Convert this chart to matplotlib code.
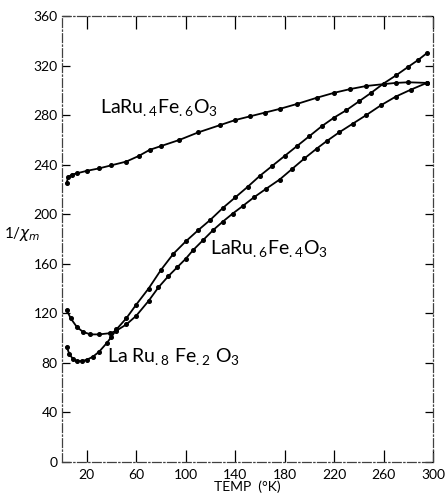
import matplotlib
matplotlib.use("Agg")
import matplotlib.pyplot as plt

plt.rcParams['font.family'] = ['Lato', 'DejaVu Sans']
plt.rcParams['mathtext.fontset'] = 'custom'
plt.rcParams['mathtext.rm'] = 'Lato'

# LaRu.4Fe.6O3
t_a = [3.8, 5, 8, 12, 20, 30, 40, 52, 62, 71, 80, 95, 110, 128, 140, 152, 164, 176,
       190, 206, 220, 233, 246, 260, 270, 280, 295]
v_a = [225.5, 230, 232, 233, 235, 237, 239.5, 242.5, 247, 252, 255, 260, 266, 272,
       276, 279, 282, 285, 289, 294, 298, 301, 303.5, 305, 306, 306.5, 306]

# LaRu.8Fe.2O3
t_b = [3.8, 6, 9, 12, 16, 20, 25, 30, 36, 40, 44, 52, 60, 70, 80, 90, 100, 110, 120,
       130, 140, 150, 160, 170, 180, 190, 200, 210, 220, 230, 240, 250, 260, 270, 280,
       288, 295]
v_b = [93, 87, 83, 81.5, 81.5, 82.5, 85, 89, 95.8, 101, 107, 116, 127, 140, 155, 168,
       178, 187, 195.5, 205, 213.5, 222, 231, 239, 247, 255, 263, 271, 278, 284, 291,
       298, 305.5, 312, 319, 324.5, 330]

# LaRu.6Fe.4O3
t_c = [3.8, 7, 12, 17, 23, 30, 39, 44, 52, 60, 70, 78, 86, 93, 100, 106, 114, 122,
       130, 138, 146, 155, 165, 176, 186, 196, 206, 214, 224, 235, 246, 258, 270, 282,
       295]
v_c = [122.7, 116, 109, 105, 103, 103, 104, 106, 111, 118, 130, 141, 150, 157, 164,
       171, 179, 187, 194, 200.5, 206.5, 213.5, 220.5, 228, 236.5, 245, 253, 259, 266,
       273, 280, 288, 295, 300.5, 306]

xticks = [20, 60, 100, 140, 180, 220, 260, 300]
yticks = [0, 40, 80, 120, 160, 200, 240, 280, 320, 360]

fig = plt.figure(figsize=(4.47, 4.96), dpi=100)
ax = fig.add_axes([62 / 447, 34 / 496, 371 / 447, 446 / 496])

for t, v in [(t_a, v_a), (t_b, v_b), (t_c, v_c)]:
    ax.plot(t, v, color='black', lw=1.3, marker='o', ms=2.6, mec='black', mfc='black')

ax.set_xlim(0, 300)
ax.set_ylim(0, 360)
ax.set_xticks(xticks)
ax.set_yticks(yticks)
ax.tick_params(axis='x', direction='in', length=9, width=0.9, top=True,
               labelsize=10, pad=5, colors='black')
ax.tick_params(axis='y', direction='in', length=6, width=0.9, right=True,
               labelsize=10, pad=3)
for s in ax.spines.values():
    s.set_linestyle((0, (7, 2, 1, 2)))
    s.set_linewidth(0.9)
    s.set_color('0.25')

ax.text(31, 281, r'LaRu$_{.4}$Fe$_{.6}$O$_3$', fontsize=14)
ax.text(120, 167, r'LaRu$_{.6}$Fe$_{.4}$O$_3$', fontsize=14)
ax.text(36, 80, r'La Ru$_{.8}$ Fe$_{.2}$ O$_3$', fontsize=14)

ax.set_xlabel('TEMP  (°K)', fontsize=10, labelpad=0)
fig.text(0.01, 0.52, r'1/$\chi_m$', fontsize=11)

fig.savefig('out.png', dpi=100)
